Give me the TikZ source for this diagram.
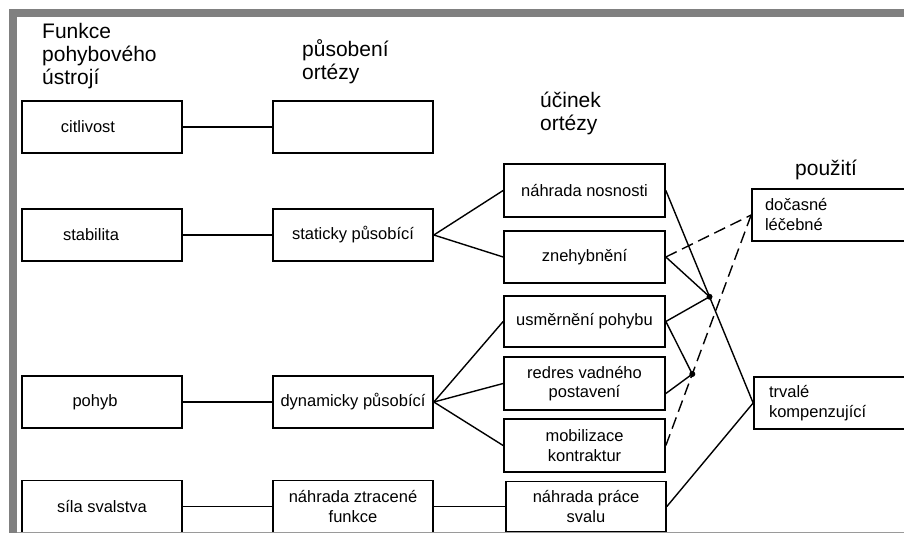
\documentclass[tikz,border=0pt]{standalone}
\usepackage{fontspec}
\setmainfont{Liberation Sans}
\usetikzlibrary{calc}
\definecolor{framegray}{HTML}{808080}
\begin{document}
\begin{tikzpicture}[x=1pt,y=-1pt,
  box/.style={draw, line width=1.7pt, rectangle, minimum width=160pt, minimum height=52pt, inner sep=0pt, font=\fontsize{16.5}{19.5}\selectfont, align=center},
  lbox/.style={draw, line width=1.7pt, rectangle, minimum height=52pt, font=\fontsize{16.5}{20}\selectfont, align=left},
  hdr/.style={anchor=base west, inner sep=0pt, align=left, font=\fontsize{21}{23}\selectfont},
  link/.style={line width=1.4pt},
  dlink/.style={line width=1.4pt, dash pattern=on 12pt off 6pt},
  dotnode/.style={circle, fill=black, inner sep=0pt, minimum size=6pt}]
\useasboundingbox (0,0) rectangle (904,534);
\clip (0,0) rectangle (904,534);
\fill[white] (0,0) rectangle (904,534);
% headers (base anchor = baseline of last line)
\node[hdr] (h1) at (42,85) {Funkce\\pohybového\\ústrojí};
\node[hdr] (h2) at (302,80) {působení\\ortézy};
\node[hdr] (h3) at (540,131) {účinek\\ortézy};
\node[hdr] (h4) at (795,176) {použití};
% column 1
\node[box] (cit) at (102,127) {citlivost\hspace*{28pt}};
\node[box] (stab) at (102,235) {stabilita\hspace*{22pt}};
\node[box] (poh) at (102,402) {pohyb\hspace*{14pt}};
\node[box] (sila) at (102,506.5) {síla svalstva};
% column 2
\node[box] (emp) at (353,127) {};
\node[box] (stat) at (353,235) {staticky působící};
\node[box] (dyn) at (353,402) {dynamicky působící};
\node[box] (ztr) at (353,506.5) {náhrada ztracené\\funkce};
% column 3
\node[box, minimum width=161pt, minimum height=53pt] (nos) at (584.5,190.5) {náhrada nosnosti};
\node[box, minimum width=161pt] (zne) at (584.5,257) {znehybnění};
\node[box, minimum width=161pt, minimum height=51pt] (usm) at (584.5,321.5) {\raisebox{-5pt}{usměrnění pohybu}};
\node[box, minimum width=161pt, minimum height=53pt] (red) at (584.5,383.5) {redres vadného\\postavení};
\node[box, minimum width=161pt, minimum height=53pt] (mob) at (584.5,445.5) {mobilizace\\kontraktur};
\node[box, minimum height=50pt] (pra) at (586,506.5) {náhrada práce\\svalu};
% column 4
\node[lbox, inner xsep=13pt, text width=142pt] (doc) at (836,215) {dočasné\\léčebné};
\node[lbox, inner xsep=15pt, text width=136pt] (trv) at (837,403) {trvalé\\kompenzující};
% connectors
\draw[link] (cit.east) -- (emp.west);
\draw[link] (stab.east) -- (stat.west);
\draw[link] (poh.east) -- (dyn.west);
\draw[link] (sila.east) -- (ztr.west);
\draw[link] (ztr.east) -- (pra.west);
\draw[link] (stat.east) -- (nos.west);
\draw[link] (stat.east) -- (zne.west);
\draw[link] (dyn.east) -- (usm.west);
\draw[link] (dyn.east) -- (red.west);
\draw[link] (dyn.east) -- (mob.west);
\draw[link] (nos.east) -- (trv.west);
\draw[link] (pra.east) -- (trv.west);
\coordinate (d1) at ($(nos.east)!0.5!(trv.west)$);
\coordinate (d2) at ($(mob.east)!0.31!(doc.west)$);
\coordinate (redr) at ($(red.east)+(0,10)$);
\draw[link] (zne.east) -- (d1);
\draw[link] (usm.east) -- (d1);
\draw[link] (usm.east) -- (d2);
\draw[link] (redr) -- (d2);
\draw[dlink] (zne.east) -- (doc.west);
\draw[dlink] (mob.east) -- (doc.west);
\node[dotnode] (dot1) at (d1) {};
\node[dotnode] (dot2) at (d2) {};
% frame
\fill[framegray] (9,9) rectangle (904,17);
\fill[framegray] (9,9) rectangle (17,533);
\draw[framegray!80, line width=1.5pt] (17,532.5) -- (904,532.5);
\end{tikzpicture}
\end{document}
